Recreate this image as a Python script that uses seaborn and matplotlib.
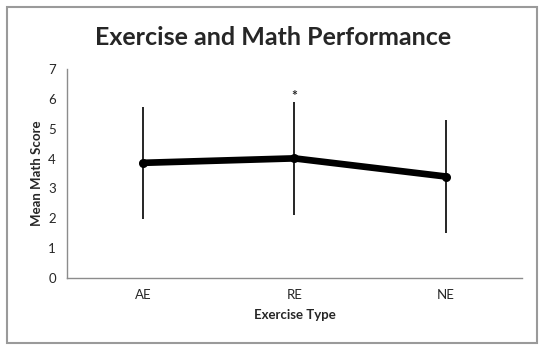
import matplotlib
matplotlib.use('Agg')
import matplotlib.pyplot as plt
import seaborn as sns
import pandas as pd
from matplotlib.patches import Rectangle

# Valores
tipos = ['AE', 'RE', 'NE']
medias = [3.86, 4.01, 3.40]
desvios = [1.88, 1.89, 1.91]
marca_signif = ['', '*', '']

df = pd.DataFrame({'Tipo': tipos, 'Media': medias, 'DP': desvios})

sns.set_style('white')
plt.rcParams['font.family'] = ['Lato', 'DejaVu Sans']

fig = plt.figure(figsize=(5.5, 3.54), dpi=100)
ax = fig.add_axes([0.1218, 0.2155, 0.827, 0.5885])

# moldura cinza em volta do gráfico
fig.patches.append(Rectangle((7 / 550, 11 / 354), 530 / 550, 336 / 354,
                             transform=fig.transFigure, fill=False,
                             edgecolor='#9a9a9a', linewidth=1.5))

# barras de erro finas, sem tampa
ax.errorbar(x=range(len(tipos)), y=df['Media'], yerr=df['DP'], fmt='none',
            ecolor='black', elinewidth=1.2, capsize=0, zorder=2)

sns.lineplot(data=df, x='Tipo', y='Media', sort=False, color='black',
             linewidth=4.8, solid_capstyle='round', marker='o',
             markersize=6.5, markeredgewidth=0, ax=ax, zorder=3)

for i, m in enumerate(marca_signif):
    if m:
        ax.text(i, medias[i] + desvios[i] + 0.2, m, ha='center', va='center',
                fontsize=10, fontweight='bold')

ax.set_xlim(-0.5, 2.5)
ax.set_ylim(0, 7)
ax.set_yticks(range(0, 8))
ax.set_xticks([-0.5, 0.5, 1.5, 2.5])
ax.set_xticklabels([])
ax.set_xticks(range(len(tipos)), minor=True)
ax.set_xticklabels(tipos, minor=True)
ax.tick_params(axis='x', which='minor', length=0, pad=8, labelsize=9.5)
ax.tick_params(axis='x', which='major', length=4, color='#8c8c8c', direction='out', width=1)
ax.tick_params(axis='y', length=4, color='#8c8c8c', direction='out', width=1,
               labelsize=9.5, pad=4)

for lado in ['top', 'right']:
    ax.spines[lado].set_visible(False)
for lado in ['left', 'bottom']:
    ax.spines[lado].set_color('#8c8c8c')
    ax.spines[lado].set_linewidth(1)

ax.set_xlabel('Exercise Type', fontsize=9.5, fontweight='bold', labelpad=6)
ax.set_ylabel('Mean Math Score', fontsize=9.5, fontweight='bold', labelpad=4)
fig.text(0.497, 0.895, 'Exercise and Math Performance', ha='center', va='center',
         fontsize=18, fontweight='bold')

plt.savefig('out.png', dpi=100)
